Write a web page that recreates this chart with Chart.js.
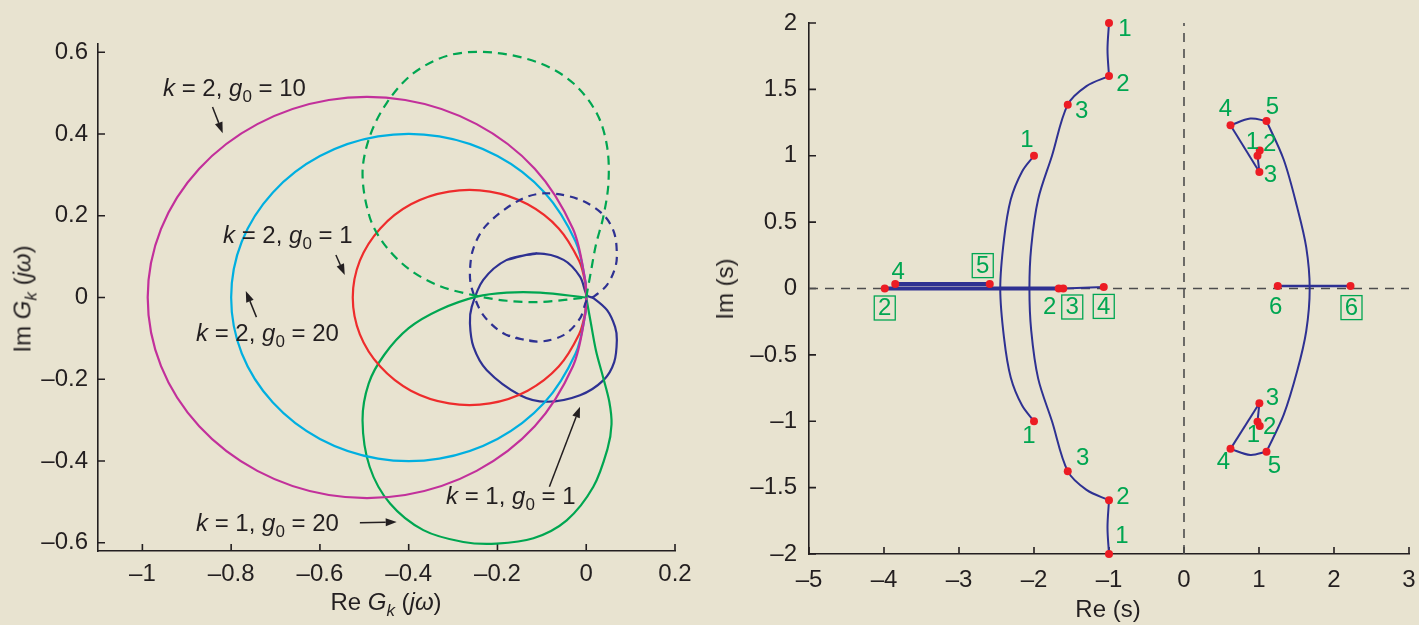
<!DOCTYPE html>
<html>
<head>
<meta charset="utf-8">
<script src="https://cdn.jsdelivr.net/npm/chart.js@4.4.0/dist/chart.umd.min.js"></script>
<style>
html, body { margin: 0; padding: 0; background: #e8e3d0; }
#wrap { position: relative; width: 1419px; height: 625px; overflow: hidden;
        font-family: "Liberation Sans", Arial, Helvetica, sans-serif; color: #231f20; }
canvas { position: absolute; top: 0; }
#leftChart { left: 0; }
#rightChart { left: 700px; }
.txt { position: absolute; font-size: 24px; line-height: 24px; white-space: nowrap; }
.sub { font-size: 17px; position: relative; top: 6px; }
.ctr { transform: translate(-50%, -50%); }
.rot { transform: translate(-50%, -50%) rotate(-90deg); }
</style>
</head>
<body>
<div id="wrap">
  <canvas id="leftChart" width="700" height="625"></canvas>
  <canvas id="rightChart" width="719" height="625"></canvas>

  <!-- notes on the left plot -->
  <div class="txt" style="left:163px;top:76px"><i>k</i> = 2, <i>g</i><span class="sub">0</span> = 10</div>
  <div class="txt" style="left:223px;top:223px"><i>k</i> = 2, <i>g</i><span class="sub">0</span> = 1</div>
  <div class="txt" style="left:196px;top:321px"><i>k</i> = 2, <i>g</i><span class="sub">0</span> = 20</div>
  <div class="txt" style="left:446px;top:484px"><i>k</i> = 1, <i>g</i><span class="sub">0</span> = 1</div>
  <div class="txt" style="left:196px;top:511px"><i>k</i> = 1, <i>g</i><span class="sub">0</span> = 20</div>

  <!-- axis titles -->
  <div class="txt ctr" style="left:386px;top:603px">Re <i>G</i><span class="sub"><i>k</i></span> (<i>j&omega;</i>)</div>
  <div class="txt rot" style="left:24px;top:299px">Im <i>G</i><span class="sub"><i>k</i></span> (<i>j&omega;</i>)</div>
  <div class="txt ctr" style="left:1108px;top:609px">Re (s)</div>
  <div class="txt rot" style="left:725px;top:289px">Im (s)</div>
</div>
<script>
// ---------- left plot: curves ----------
const leftXTicks = [-1, -0.8, -0.6, -0.4, -0.2, 0, 0.2];
const leftXLabels = ['\u20131', '\u20130.8', '\u20130.6', '\u20130.4', '\u20130.2', '0', '0.2'];
const leftYTicks = [0.6, 0.4, 0.2, 0, -0.2, -0.4, -0.6];
const leftYLabels = ['0.6', '0.4', '0.2', '0', '\u20130.2', '\u20130.4', '\u20130.6'];

// k = 2, g0 = 10
const magentaPts = [[0,0],[-0.002,0.04],[-0.030,0.168],[-0.116,0.315],[-0.247,0.424],[-0.408,0.483],[-0.580,0.483],
  [-0.741,0.424],[-0.872,0.315],[-0.958,0.168],[-0.988,0],[-0.958,-0.168],[-0.872,-0.315],
  [-0.741,-0.424],[-0.580,-0.483],[-0.408,-0.483],[-0.247,-0.424],[-0.116,-0.315],[-0.030,-0.168],[-0.002,-0.04],[0,0]];
// k = 2, g0 = 20
const cyanPts = [[0,0],[-0.002,0.04],[-0.024,0.137],[-0.094,0.257],[-0.200,0.346],[-0.331,0.394],[-0.469,0.394],
  [-0.600,0.346],[-0.706,0.257],[-0.776,0.137],[-0.800,0],[-0.776,-0.137],[-0.706,-0.257],
  [-0.600,-0.346],[-0.469,-0.394],[-0.331,-0.394],[-0.200,-0.346],[-0.094,-0.257],[-0.024,-0.137],[-0.002,-0.04],[0,0]];
// k = 2, g0 = 1
const redPts = [[0,0],[-0.003,0.04],[-0.016,0.090],[-0.062,0.169],[-0.132,0.228],[-0.217,0.259],[-0.309,0.259],
  [-0.395,0.228],[-0.464,0.169],[-0.510,0.090],[-0.526,0],[-0.510,-0.090],[-0.464,-0.169],
  [-0.395,-0.228],[-0.309,-0.259],[-0.217,-0.259],[-0.132,-0.228],[-0.062,-0.169],[-0.016,-0.090],[-0.003,-0.04],[0,0]];
// k = 1, g0 = 20 (solid) and its dashed partner
const greenPts = [[0,0],[-0.104,0.012],[-0.179,0.012],[-0.247,0.002],[-0.330,-0.030],[-0.400,-0.075],
  [-0.455,-0.140],[-0.490,-0.210],[-0.504,-0.300],[-0.488,-0.414],[-0.442,-0.504],[-0.367,-0.569],
  [-0.277,-0.598],[-0.202,-0.602],[-0.119,-0.589],[-0.044,-0.545],[0.016,-0.463],[0.048,-0.370],
  [0.057,-0.310],[0.052,-0.255],[0.038,-0.195],[0.022,-0.130],[0.010,-0.060],[0,0]];
const greenDashPts = [[0,0],[0.010,0.060],[0.022,0.130],[0.038,0.195],[0.050,0.279],[0.047,0.369],
  [0.024,0.450],[-0.029,0.524],[-0.104,0.573],[-0.209,0.599],[-0.307,0.593],[-0.390,0.548],
  [-0.450,0.475],[-0.488,0.393],[-0.504,0.304],[-0.488,0.197],[-0.455,0.130],[-0.400,0.070],
  [-0.330,0.028],[-0.247,0.004],[-0.179,-0.008],[-0.104,-0.011],[0,0]];
// k = 1, g0 = 1 (solid) and its dashed partner; the first two points are repeated at the end to close the loop
const bluePts = [[-0.111,0.108],[-0.179,0.092],[-0.232,0.043],[-0.258,-0.023],[-0.262,-0.063],[-0.254,-0.121],
  [-0.224,-0.178],[-0.149,-0.239],[-0.089,-0.255],[-0.014,-0.239],[0.039,-0.202],[0.063,-0.158],[0.069,-0.104],
  [0.065,-0.072],[0.047,-0.031],[0.017,-0.002],[0.002,0.005],[-0.014,0.051],[-0.051,0.092],[-0.111,0.108],[-0.179,0.092]];
const blueDashPts = [[-0.111,-0.108],[-0.179,-0.092],[-0.232,-0.043],[-0.258,0.023],[-0.262,0.063],[-0.254,0.121],
  [-0.224,0.178],[-0.149,0.239],[-0.089,0.255],[-0.014,0.239],[0.039,0.202],[0.063,0.158],[0.069,0.104],
  [0.065,0.072],[0.047,0.031],[0.017,0.002],[0.002,-0.005],[-0.014,-0.051],[-0.051,-0.092],[-0.111,-0.108],[-0.179,-0.092]];

// arrows next to the notes (tail x, tail y, head x, head y)
const noteArrows = [[-0.842,0.466,-0.819,0.402],[-0.564,0.104,-0.544,0.055],[-0.743,-0.048,-0.767,0.016],
  [-0.083,-0.463,-0.014,-0.267],[-0.510,-0.551,-0.427,-0.549]];

// ---------- right plot: root locus ----------
const rightXTicks = [-5, -4, -3, -2, -1, 0, 1, 2, 3];
const rightXLabels = ['\u20135', '\u20134', '\u20133', '\u20132', '\u20131', '0', '1', '2', '3'];
const rightYTicks = [2, 1.5, 1, 0.5, 0, -0.5, -1, -1.5, -2];
const rightYLabels = ['2', '1.5', '1', '0.5', '0', '\u20130.5', '\u20131', '\u20131.5', '\u20132'];

const rootX = [-1, -1, -1.55, -2, -3.85, -3.99, -2.59, -1.67, -1.61, -1.07, 0.62, 1.10, 0.98, 1.01, 1.005, 1.25, 2.22,
  -1, -1, -1.55, -2, 0.62, 1.10, 1.005, 0.98, 1.01];
const rootY = [2, 1.6, 1.385, 1, 0.033, 0, 0.033, 0, 0, 0.012, 1.23, 1.262, 1.0, 1.04, 0.878, 0.018, 0.018,
  -2, -1.595, -1.376, -1, -1.208, -1.229, -0.865, -1.003, -1.035];
const rootLabel = ['1','2','3','1','4','2','5','2','3','4','4','5','1','2','3','6','6',
  '1','2','3','1','4','5','3','1','2'];
const rootBoxed = [false,false,false,false,false,true,true,false,true,true,false,false,false,false,false,false,true,
  false,false,false,false,false,false,false,false,false];
const labelShift = [[16,5],[14,7],[14,6],[-7,-16],[3,-13],[0,19],[-7,-19],[-9,18],[9,18],[0,19],[-5,-17],[6,-15],
  [-5,-14],[10,-7],[11,2],[-2,20],[1,21],
  [13,-19],[14,-4],[15,-14],[-5,14],[-7,13],[8,14],[13,-6],[-4,13],[10,0]];

const locusTop = [[-1,2],[-1.02,1.8],[-1,1.6]];
const locusBottom = [[-1,-1.595],[-1.02,-1.8],[-1,-2]];
const locusOuter = [[-1,1.6],[-1.30,1.525],[-1.55,1.385],[-1.76,1.0],[-1.945,0.671],[-2.037,0.312],[-2.061,0],
  [-2.037,-0.318],[-1.945,-0.677],[-1.76,-1.0],[-1.55,-1.376],[-1.30,-1.517],[-1,-1.595]];
const locusInner = [[-2,1],[-2.16,0.88],[-2.31,0.67],[-2.40,0.37],[-2.45,0],[-2.40,-0.37],[-2.31,-0.67],[-2.16,-0.88],[-2,-1]];
const realA = [[-3.99,0],[-1.67,0]];
const realB = [[-3.85,0.033],[-2.59,0.033]];
const realC = [[-1.61,0],[-1.07,0.012]];
const realD = [[1.25,0.018],[2.22,0.018]];
const rhpUpper = [[1.005,0.878],[0.98,1.0],[1.01,1.04]];
const rhpUpperEdge = [[1.005,0.878],[0.62,1.23]];
const rhpUpperArc = [[0.62,1.23],[0.884,1.28],[1.10,1.262]];
const rhpLower = [[1.005,-0.865],[0.98,-1.003],[1.01,-1.035]];
const rhpLowerEdge = [[1.005,-0.865],[0.62,-1.208]];
const rhpLowerArc = [[0.62,-1.208],[0.884,-1.254],[1.10,-1.229]];
const rhpOuter = [[1.10,1.262],[1.33,0.97],[1.51,0.61],[1.63,0.31],[1.676,0],[1.63,-0.32],[1.51,-0.62],[1.33,-0.95],[1.10,-1.229]];
const imAxis = [[0,-2],[0,2]];
const reAxis = [[-5,0],[3,0]];

Chart.defaults.font.family = '"Liberation Sans", Arial, Helvetica, sans-serif';
Chart.defaults.color = '#231f20';

function pts(arr) {
    return arr.map(p => ({ x: p[0], y: p[1] }));
}
function curve(arr, color, width, dash, tension) {
    return {
        data: pts(arr), showLine: true, borderColor: color, borderWidth: width,
        borderDash: dash || [], pointRadius: 0, tension: tension, fill: false, order: 2
    };
}
function zeroPad(s) {
    s.paddingLeft = 0; s.paddingRight = 0; s.paddingTop = 0; s.paddingBottom = 0;
}
function axes(xmin, xmax, ymin, ymax, xt, xl, yt, yl, yWidth, xHeight, xPad, yPad) {
    return {
        x: {
            type: 'linear', min: xmin, max: xmax, position: 'bottom',
            grid: { display: false, drawTicks: false },
            border: { display: true, color: '#231f20', width: 1.6 },
            ticks: { padding: xPad, font: { size: 24 }, autoSkip: false, maxRotation: 0,
                     callback: (v, i) => xl[i] },
            afterBuildTicks: s => { s.ticks = xt.map(v => ({ value: v })); },
            afterFit: s => { s.height = xHeight; zeroPad(s); }
        },
        y: {
            type: 'linear', min: ymin, max: ymax, position: 'left',
            grid: { display: false, drawTicks: false },
            border: { display: true, color: '#231f20', width: 1.6 },
            ticks: { padding: yPad, font: { size: 24 }, autoSkip: false,
                     callback: (v, i) => yl[i] },
            afterBuildTicks: s => { s.ticks = yt.map(v => ({ value: v })); },
            afterFit: s => { s.width = yWidth; zeroPad(s); }
        }
    };
}

// tick marks pointing into the plot
const innerTicks = {
    id: 'innerTicks',
    beforeDatasetsDraw(chart) {
        const { ctx, chartArea, scales: { x, y } } = chart;
        ctx.save();
        ctx.strokeStyle = '#231f20';
        ctx.lineWidth = 1.6;
        ctx.beginPath();
        x.ticks.forEach(t => {
            const px = x.getPixelForValue(t.value);
            ctx.moveTo(px, chartArea.bottom);
            ctx.lineTo(px, chartArea.bottom - 7);
        });
        y.ticks.forEach(t => {
            const py = y.getPixelForValue(t.value);
            ctx.moveTo(chartArea.left, py);
            ctx.lineTo(chartArea.left + 7, py);
        });
        ctx.stroke();
        ctx.restore();
    }
};

const arrowNotes = {
    id: 'arrowNotes',
    afterDatasetsDraw(chart) {
        const { ctx, scales: { x, y } } = chart;
        ctx.save();
        ctx.strokeStyle = '#231f20';
        ctx.fillStyle = '#231f20';
        ctx.lineWidth = 1.5;
        noteArrows.forEach(a => {
            const x1 = x.getPixelForValue(a[0]), y1 = y.getPixelForValue(a[1]);
            const x2 = x.getPixelForValue(a[2]), y2 = y.getPixelForValue(a[3]);
            const ang = Math.atan2(y2 - y1, x2 - x1);
            const hl = 11, hw = 4;
            ctx.beginPath();
            ctx.moveTo(x1, y1);
            ctx.lineTo(x2 - hl * Math.cos(ang), y2 - hl * Math.sin(ang));
            ctx.stroke();
            ctx.beginPath();
            ctx.moveTo(x2, y2);
            ctx.lineTo(x2 - hl * Math.cos(ang) + hw * Math.sin(ang), y2 - hl * Math.sin(ang) - hw * Math.cos(ang));
            ctx.lineTo(x2 - hl * Math.cos(ang) - hw * Math.sin(ang), y2 - hl * Math.sin(ang) + hw * Math.cos(ang));
            ctx.closePath();
            ctx.fill();
        });
        ctx.restore();
    }
};

const rootLabels = {
    id: 'rootLabels',
    afterDatasetsDraw(chart) {
        const { ctx, scales: { x, y } } = chart;
        ctx.save();
        ctx.font = '24px "Liberation Sans", Arial, sans-serif';
        ctx.fillStyle = '#00a651';
        ctx.strokeStyle = '#00a651';
        ctx.lineWidth = 1.3;
        ctx.textAlign = 'center';
        ctx.textBaseline = 'middle';
        for (let i = 0; i < rootLabel.length; i++) {
            const cx = x.getPixelForValue(rootX[i]) + labelShift[i][0];
            const cy = y.getPixelForValue(rootY[i]) + labelShift[i][1];
            ctx.fillText(rootLabel[i], cx, cy + 1);
            if (rootBoxed[i]) {
                ctx.strokeRect(cx - 10.5, cy - 11.5, 21, 24);
            }
        }
        ctx.restore();
    }
};

const T = 0.33; // curve smoothing

const LeftChart = new Chart(document.getElementById('leftChart'), {
    type: 'scatter',
    data: {
        datasets: [
            curve(greenDashPts, '#00a651', 2.2, [9, 6], T),
            curve(blueDashPts, '#2e3192', 2.2, [8, 6], T),
            curve(magentaPts, '#c2309b', 2.2, null, T),
            curve(cyanPts, '#00afe0', 2.2, null, T),
            curve(redPts, '#ee2c2c', 2.2, null, T),
            curve(greenPts, '#00a651', 2.2, null, T),
            curve(bluePts, '#2e3192', 2.2, null, T)
        ]
    },
    options: {
        responsive: false,
        animation: false,
        layout: { padding: { left: 0, top: 44, right: 25, bottom: 0 } },
        plugins: { legend: { display: false }, tooltip: { enabled: false } },
        scales: axes(-1.1, 0.2, -0.62, 0.62, leftXTicks, leftXLabels, leftYTicks, leftYLabels, 98, 74, 9, 10)
    },
    plugins: [innerTicks, arrowNotes]
});

const navy = '#2e3192';
const RightChart = new Chart(document.getElementById('rightChart'), {
    type: 'scatter',
    data: {
        datasets: [
            {
                data: rootX.map((v, i) => ({ x: v, y: rootY[i] })),
                showLine: false, pointRadius: 4, pointBackgroundColor: '#ec1c24',
                pointBorderWidth: 0, clip: false, order: 0
            },
            curve(locusTop, navy, 2, null, T),
            curve(locusBottom, navy, 2, null, T),
            curve(locusOuter, navy, 2, null, T),
            curve(locusInner, navy, 2, null, T),
            curve(realA, navy, 4, null, 0),
            curve(realB, navy, 4, null, 0),
            curve(realC, navy, 2, null, 0),
            curve(realD, navy, 2.5, null, 0),
            curve(rhpUpper, navy, 2, null, 0),
            curve(rhpUpperEdge, navy, 2, null, 0),
            curve(rhpUpperArc, navy, 2, null, T),
            curve(rhpLower, navy, 2, null, 0),
            curve(rhpLowerEdge, navy, 2, null, 0),
            curve(rhpLowerArc, navy, 2, null, T),
            curve(rhpOuter, navy, 2, null, T),
            Object.assign(curve(imAxis, '#4d4d4d', 1.6, [9, 7], 0), { order: 3 }),
            Object.assign(curve(reAxis, '#4d4d4d', 1.6, [9, 7], 0), { order: 3 })
        ]
    },
    options: {
        responsive: false,
        animation: false,
        layout: { padding: { left: 0, top: 23, right: 10, bottom: 0 } },
        plugins: { legend: { display: false }, tooltip: { enabled: false } },
        scales: axes(-5, 3, -2, 2, rightXTicks, rightXLabels, rightYTicks, rightYLabels, 109, 71, 12, 12)
    },
    plugins: [innerTicks, rootLabels]
});
</script>
</body>
</html>
